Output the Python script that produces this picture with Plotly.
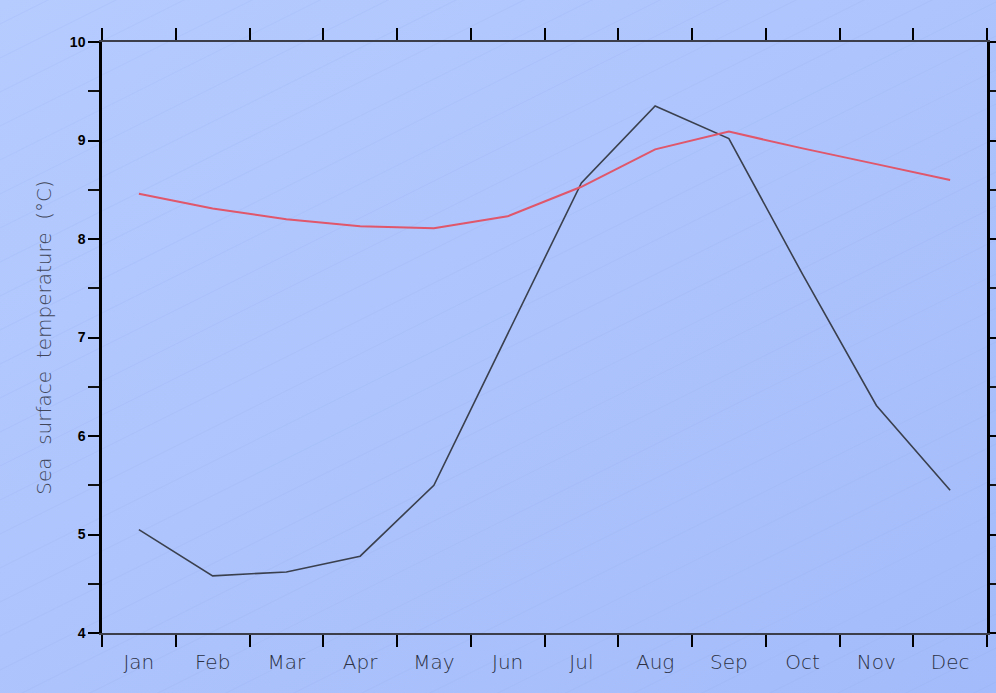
import base64
import plotly.graph_objects as go

months = ["Jan", "Feb", "Mar", "Apr", "May", "Jun", "Jul", "Aug", "Sep", "Oct", "Nov", "Dec"]
sst_series_a = [5.05, 4.58, 4.62, 4.78, 5.50, 7.03, 8.57, 9.35, 9.02, 7.64, 6.31, 5.45]
sst_series_b = [8.46, 8.31, 8.20, 8.13, 8.11, 8.23, 8.53, 8.91, 9.09, 8.92, 8.76, 8.60]
y_ticks = [4, 5, 6, 7, 8, 9, 10]

W, H = 996, 693
L, R, T, B = 102, 9, 42, 60
pw, ph = W - L - R, H - T - B

# background: diagonal gradient with faint diagonal stripes
lines = []
for k in range(-40, 60):
    y0 = k * 34
    lines.append(f'<line x1="0" y1="{y0 + 500}" x2="1000" y2="{y0}" />')
svg = f'''<svg xmlns="http://www.w3.org/2000/svg" width="{W}" height="{H}" viewBox="0 0 {W} {H}" preserveAspectRatio="none">
<defs><linearGradient id="g" x1="0" y1="0" x2="1" y2="1">
<stop offset="0" stop-color="#b6ccff"/><stop offset="1" stop-color="#a3bbfa"/></linearGradient></defs>
<rect width="{W}" height="{H}" fill="url(#g)"/>
<g stroke="#9bb2ee" stroke-width="1" stroke-opacity="0.25">{''.join(lines)}</g>
</svg>'''
src = "data:image/svg+xml;base64," + base64.b64encode(svg.encode()).decode()

fig = go.Figure()
fig.add_trace(go.Scatter(x=months, y=sst_series_a, mode="lines", hoverinfo="skip",
                         line=dict(color="#3b404e", width=1.6), showlegend=False))
fig.add_trace(go.Scatter(x=months, y=sst_series_b, mode="lines", hoverinfo="skip",
                         line=dict(color="#e0566a", width=2), showlegend=False))

fig.add_layout_image(dict(source=src, xref="paper", yref="paper",
                          x=-L / pw, y=1 + T / ph, sizex=W / pw, sizey=H / ph,
                          xanchor="left", yanchor="top", sizing="stretch", layer="below"))

fig.update_layout(
    width=W, height=H, autosize=False,
    margin=dict(l=L, r=R, t=T, b=B),
    paper_bgcolor="#a9c0fb",
    plot_bgcolor="rgba(0,0,0,0)",
    showlegend=False,
    xaxis=dict(
        type="category", categoryorder="array", categoryarray=months,
        range=[-0.5, 11.5], tickson="boundaries", automargin=False,
        ticks="outside", ticklen=12, tickwidth=2, tickcolor="#000000",
        showline=True, linecolor="#3c3f4a", linewidth=2, mirror="ticks",
        showgrid=False, zeroline=False, ticklabelstandoff=10,
        tickfont=dict(family="DejaVu Sans", size=20, color="#2c3144", weight=300),
    ),
    yaxis=dict(
        range=[4, 10], tickvals=y_ticks, automargin=False,
        ticks="outside", ticklen=11, tickwidth=2, tickcolor="#000000",
        minor=dict(dtick=0.5, ticks="outside", ticklen=11, tickwidth=2, tickcolor="#111111"),
        showline=True, linecolor="#000000", linewidth=2.5, mirror="ticks",
        showgrid=False, zeroline=False,
        tickfont=dict(family="Liberation Sans", size=14, color="#000000", weight="bold"),
        title=dict(text="Sea\u00a0 surface\u00a0 temperature\u00a0 (°C)", standoff=13,
                   font=dict(family="DejaVu Sans", size=20, color="#41465a", weight=300)),
    ),
)

fig.write_html("out.html",
               config={"displayModeBar": False, "responsive": False},
               post_script="document.body.style.margin='0';document.body.style.overflow='hidden';")
